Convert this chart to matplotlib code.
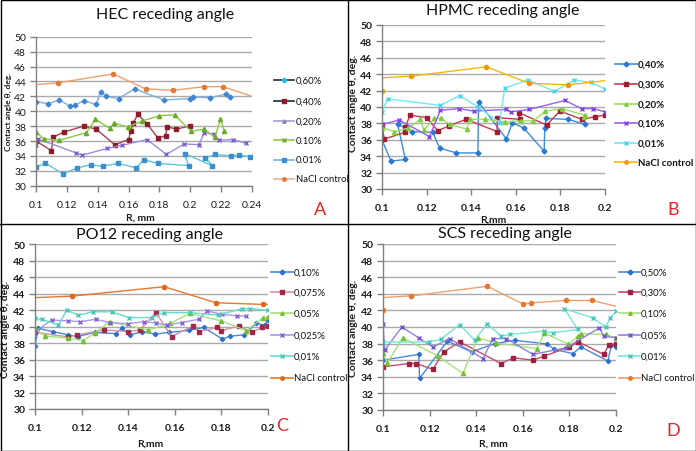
import matplotlib
matplotlib.use('Agg')
import matplotlib.pyplot as plt
from matplotlib.lines import Line2D
from matplotlib.patches import Rectangle

plt.rcParams['font.family'] = ['Lato', 'DejaVu Sans']

# ---------------- DATA ----------------
# Panel A : HEC
A_060_x = [0.100, 0.108, 0.115, 0.122, 0.125, 0.131, 0.139, 0.142, 0.1455, 0.1535, 0.164, 0.183, 0.200, 0.202, 0.213, 0.223, 0.226]
A_060_y = [41.3, 41.0, 41.5, 40.7, 40.8, 41.4, 40.9, 42.6, 42.0, 41.7, 43.0, 41.5, 41.7, 41.9, 41.8, 42.3, 41.9]
A_040_x = [0.100, 0.110, 0.111, 0.118, 0.131, 0.139, 0.151, 0.160, 0.1615, 0.163, 0.166, 0.172, 0.179, 0.184, 0.185, 0.191, 0.1995]
A_040_y = [36.0, 34.7, 36.5, 37.2, 38.0, 37.6, 35.5, 36.2, 37.4, 38.4, 39.6, 38.3, 36.4, 36.7, 37.9, 37.6, 38.0]
A_020_x = [0.100, 0.101, 0.126, 0.130, 0.146, 0.1555, 0.172, 0.1845, 0.196, 0.2055, 0.209, 0.2155, 0.2185, 0.228, 0.236]
A_020_y = [35.5, 36.3, 34.4, 34.1, 35.0, 35.4, 36.2, 34.2, 35.6, 35.5, 37.1, 36.9, 36.1, 36.2, 35.7]
A_010_x = [0.100, 0.105, 0.115, 0.1325, 0.1385, 0.148, 0.1505, 0.1595, 0.169, 0.180, 0.190, 0.2005, 0.209, 0.216, 0.2195, 0.222]
A_010_y = [37.2, 36.3, 36.1, 37.1, 38.9, 37.7, 38.4, 37.9, 38.7, 39.4, 39.5, 37.3, 37.6, 36.5, 38.9, 37.4]
A_001_x = [0.100, 0.106, 0.1177, 0.1268, 0.1355, 0.1433, 0.153, 0.165, 0.1697, 0.1788, 0.1989, 0.1963, 0.2143, 0.2097, 0.2158, 0.2264, 0.2318, 0.2385]
A_001_y = [32.5, 33.0, 31.6, 32.4, 32.8, 32.6, 33.0, 32.4, 33.5, 33.0, 32.7, 34.3, 32.7, 33.7, 34.2, 34.0, 34.1, 33.9]
A_nacl_x = [0.090, 0.114, 0.150, 0.171, 0.189, 0.209, 0.221, 0.250]
A_nacl_y = [43.4, 43.8, 45.0, 43.0, 42.8, 43.3, 43.3, 41.3]

# Panel B : HPMC
B_040_x = [0.100, 0.104, 0.1105, 0.107, 0.1135, 0.1228, 0.1258, 0.1333, 0.143, 0.1433, 0.1558, 0.1585, 0.1637, 0.1727, 0.1730, 0.1735, 0.1832, 0.191]
B_040_y = [36.0, 33.4, 33.6, 37.9, 37.0, 36.9, 35.0, 34.4, 34.4, 40.6, 36.1, 38.1, 37.4, 34.6, 37.5, 38.6, 38.5, 37.9]
B_030_x = [0.100, 0.101, 0.1103, 0.1105, 0.1126, 0.120, 0.125, 0.130, 0.1378, 0.1516, 0.1517, 0.1618, 0.1615, 0.1738, 0.1798, 0.1895, 0.1955, 0.200]
B_030_y = [37.8, 36.1, 36.9, 37.6, 39.0, 38.7, 37.1, 37.7, 38.5, 37.0, 38.7, 38.5, 39.3, 37.8, 39.5, 38.5, 38.8, 39.0]
B_020_x = [0.100, 0.1055, 0.1115, 0.1172, 0.1187, 0.1235, 0.1265, 0.1303, 0.138, 0.1394, 0.1463, 0.155, 0.1622, 0.1678, 0.1733, 0.1805, 0.191, 0.1905]
B_020_y = [37.5, 37.0, 37.4, 38.5, 37.2, 38.6, 38.6, 37.9, 37.3, 38.5, 38.5, 38.2, 38.3, 38.3, 39.5, 39.8, 39.0, 38.8]
B_010_x = [0.100, 0.1078, 0.1213, 0.1262, 0.1345, 0.1412, 0.1558, 0.1577, 0.166, 0.182, 0.1895, 0.1948, 0.200]
B_010_y = [37.9, 38.4, 36.4, 39.6, 39.8, 39.5, 39.7, 39.4, 39.7, 40.8, 39.8, 39.8, 39.4]
B_001_x = [0.100, 0.1025, 0.1262, 0.1348, 0.143, 0.1528, 0.155, 0.1655, 0.1772, 0.1862, 0.1937, 0.200]
B_001_y = [39.4, 41.0, 40.2, 41.4, 40.0, 38.1, 42.3, 43.3, 41.9, 43.3, 43.0, 42.2]
B_nacl_x = [0.100, 0.085, 0.113, 0.1468, 0.166, 0.1832, 0.215]
B_nacl_y = [42.0, 43.35, 43.75, 44.9, 42.9, 42.7, 43.65]

# Panel C : PO12
C_010_x = [0.100, 0.1014, 0.1076, 0.1143, 0.1183, 0.1257, 0.1347, 0.1373, 0.1407, 0.1461, 0.1514, 0.1576, 0.1661, 0.1724, 0.1804, 0.1839, 0.1896, 0.195, 0.1986, 0.200]
C_010_y = [37.7, 39.8, 39.4, 39.0, 38.8, 39.3, 39.15, 39.8, 39.0, 39.4, 39.1, 39.3, 39.55, 39.9, 38.5, 38.85, 39.0, 40.4, 40.2, 40.8]
C_0075_x = [0.100, 0.1143, 0.1181, 0.1296, 0.1399, 0.145, 0.1519, 0.1586, 0.1679, 0.1704, 0.1781, 0.180, 0.1876, 0.1931, 0.1974, 0.200]
C_0075_y = [39.3, 38.75, 39.0, 39.6, 39.4, 39.6, 41.7, 38.8, 40.1, 39.4, 39.9, 39.5, 40.1, 39.3, 39.9, 40.1]
C_005_x = [0.100, 0.1043, 0.1143, 0.1207, 0.1257, 0.132, 0.1486, 0.158, 0.1664, 0.180, 0.1907, 0.1979, 0.200]
C_005_y = [39.8, 38.85, 38.6, 38.3, 39.2, 40.6, 39.6, 40.4, 41.6, 40.7, 39.5, 41.1, 41.2]
C_0025_x = [0.100, 0.1071, 0.1143, 0.1193, 0.1261, 0.1321, 0.1397, 0.1467, 0.152, 0.1567, 0.1629, 0.1703, 0.1739, 0.1804, 0.1869, 0.1907]
C_0025_y = [39.4, 40.8, 40.7, 40.6, 40.9, 40.5, 40.35, 40.6, 40.45, 40.2, 40.5, 40.9, 41.9, 41.5, 41.3, 41.3]
C_001_x = [0.100, 0.1029, 0.110, 0.1136, 0.1186, 0.1247, 0.1329, 0.1404, 0.150, 0.1553, 0.1664, 0.1786, 0.189, 0.1921, 0.200]
C_001_y = [41.0, 40.9, 40.2, 42.0, 41.4, 41.8, 41.8, 41.1, 41.1, 41.7, 41.7, 41.4, 42.2, 42.2, 42.0]
C_nacl_x = [0.085, 0.1157, 0.1555, 0.1776, 0.1979, 0.215]
C_nacl_y = [43.35, 43.7, 44.85, 42.9, 42.7, 42.8]

# Panel D : SCS
D_050_x = [0.100, 0.1153, 0.1157, 0.1276, 0.138, 0.148, 0.1565, 0.1705, 0.1735, 0.1815, 0.185, 0.1965, 0.198, 0.200]
D_050_y = [36.0, 36.7, 33.8, 38.3, 37.0, 38.0, 38.4, 37.95, 37.3, 36.8, 37.6, 35.9, 37.8, 37.6]
D_030_x = [0.100, 0.1111, 0.1143, 0.1214, 0.1261, 0.1329, 0.1507, 0.156, 0.1643, 0.1693, 0.180, 0.1839, 0.1947, 0.1969, 0.200]
D_030_y = [35.2, 35.6, 35.6, 34.9, 37.0, 38.2, 35.6, 36.3, 36.0, 36.5, 37.6, 38.2, 36.7, 37.8, 38.0]
D_010_x = [0.100, 0.1019, 0.1085, 0.1236, 0.1343, 0.1407, 0.1483, 0.166, 0.1693, 0.1796, 0.1836, 0.185, 0.1955, 0.200]
D_010_y = [36.9, 35.7, 38.7, 36.5, 34.4, 38.7, 38.1, 37.4, 39.3, 37.9, 38.9, 39.2, 39.1, 38.7]
D_005_x = [0.100, 0.1007, 0.1081, 0.1153, 0.1214, 0.1286, 0.1429, 0.1471, 0.1529, 0.1643, 0.1786, 0.1929, 0.1947, 0.200]
D_005_y = [40.4, 37.2, 40.0, 38.7, 37.6, 38.6, 36.2, 38.6, 38.6, 36.7, 37.5, 39.9, 38.9, 38.7]
D_001_x = [0.100, 0.1197, 0.1247, 0.1329, 0.1393, 0.1447, 0.1507, 0.1543, 0.1689, 0.1729, 0.1836, 0.1778, 0.190, 0.1956, 0.1975, 0.200]
D_001_y = [38.2, 38.2, 38.5, 40.3, 38.4, 40.4, 38.9, 39.1, 39.5, 39.3, 39.7, 42.2, 41.1, 40.0, 41.1, 41.9]
D_nacl_x = [0.100, 0.085, 0.1121, 0.1447, 0.1603, 0.1634, 0.1786, 0.1896, 0.215]
D_nacl_y = [42.0, 43.3, 43.75, 44.9, 42.75, 42.9, 43.2, 43.2, 41.5]

titles = ["HEC receding angle", "HPMC receding angle", "PO12 receding angle", "SCS receding angle"]
letters = ["A", "B", "C", "D"]
xlabels = ["R, mm", "R,mm", "R,mm", "R, mm"]
ylabel = "Contact angle θ, deg."
yticks = [30, 32, 34, 36, 38, 40, 42, 44, 46, 48, 50]
xticks_A = [0.10, 0.12, 0.14, 0.16, 0.18, 0.20, 0.22, 0.24]
xticklabels_A = ["0.1", "0.12", "0.14", "0.16", "0.18", "0.2", "0.22", "0.24"]
xticks_B = [0.10, 0.12, 0.14, 0.16, 0.18, 0.20]
xticklabels_B = ["0.1", "0.12", "0.14", "0.16", "0.18", "0.2"]

labels_A = ["0,60%", "0,40%", "0,20%", "0.10%", "0.01%", "NaCl control"]
labels_B = ["0,40%", "0,30%", "0,20%", "0,10%", "0,01%", "NaCl control"]
labels_C = ["0,10%", "0,075%", "0,05%", "0,025%", "0,01%", "NaCl control"]
labels_D = ["0,50%", "0,30%", "0,10%", "0,05%", "0,01%", "NaCl control"]

# ---------------- FIGURE ----------------
W, H = 696, 452
fig = plt.figure(figsize=(W / 100, H / 100), dpi=100)


def rect(l, t, r, b):
    return [l / W, 1 - b / H, (r - l) / W, (b - t) / H]


def fx(px):
    return px / W


def fy(py):
    return 1 - py / H


panels = [
    dict(rect=rect(36, 37.7, 252, 186.7), xlim=(0.1, 0.24), xt=xticks_A, xtl=xticklabels_A, bold=False, tfs=7.5,
         series=[
             (A_060_x, A_060_y, '#7eaee0', 'D', '#3d85d6', 2.5),
             (A_040_x, A_040_y, '#a8404e', 's', '#8c1c2c', 3.0),
             (A_020_x, A_020_y, '#9d8ee0', 'x', '#7a5cd0', 3.5),
             (A_010_x, A_010_y, '#8cc84a', '^', '#6aaa28', 3.0),
             (A_001_x, A_001_y, '#5cc6d4', 's', '#3a8fd1', 2.5),
             (A_nacl_x, A_nacl_y, '#f0a070', 'o', '#e07b39', 3.0),
         ],
         legend=dict(labels=labels_A, x0=274, x1=294, xt=296, ys=[81, 102, 122, 141, 161, 180], fs=6.8,
                     items=[('#1c2e3a', 'D', '#2ab7e6'), ('#1c2e3a', 's', '#8c1c2c'), ('#a899e0', '^', '#909090'),
                            ('#8cc84a', 'x', '#6aaa28'), ('#6cb4e0', 's', '#3a8fd1'), ('#f4b090', 'o', '#e07b39')],
                     bold=False),
         title=(165, 15), letter=(320, 210), xlabel=(140, 218), ylabel=(8, 112), yfs=6.0),
    dict(rect=rect(382, 26, 605, 190), xlim=(0.1, 0.2), xt=xticks_B, xtl=xticklabels_B, bold=True, tfs=7.5,
         series=[
             (B_040_x, B_040_y, '#3c8ce0', 'D', '#2a78d0', 2.5),
             (B_030_x, B_030_y, '#c43a50', 's', '#a41c34', 3.0),
             (B_020_x, B_020_y, '#9ee060', '^', '#80cc40', 3.0),
             (B_010_x, B_010_y, '#9a60e8', 'x', '#8040e0', 3.5),
             (B_001_x, B_001_y, '#70eaf4', 'x', '#40d8ee', 3.5),
             (B_nacl_x, B_nacl_y, '#f5b800', 'o', '#f09800', 3.0),
         ],
         legend=dict(labels=labels_B, x0=615, x1=637, xt=638, ys=[65, 85, 105, 124, 144, 163], fs=7,
                     items=[('#3c8ce0', 'D', '#2a78d0'), ('#c43a50', 's', '#a41c34'), ('#9ee060', '^', '#80cc40'),
                            ('#9a60e8', 'x', '#8040e0'), ('#70eaf4', 'x', '#40d8ee'), ('#f5b800', 'o', '#f09800')],
                     bold=True),
         title=(503, 11), letter=(673, 210), xlabel=(493, 220), ylabel=(354, 103), yfs=7.5),
    dict(rect=rect(35, 245.3, 268, 410), xlim=(0.1, 0.2), xt=xticks_B, xtl=xticklabels_B, bold=True, tfs=7.5,
         series=[
             (C_010_x, C_010_y, '#4a88d8', 'D', '#2a70cc', 2.2),
             (C_0075_x, C_0075_y, '#d890a8', 's', '#a02848', 3.0),
             (C_005_x, C_005_y, '#a8e07a', '^', '#70c030', 3.0),
             (C_0025_x, C_0025_y, '#a898e8', 'x', '#8060d8', 3.5),
             (C_001_x, C_001_y, '#66dcc8', 'x', '#40c8b8', 3.5),
             (C_nacl_x, C_nacl_y, '#e8782a', 'o', '#e06818', 3.0),
         ],
         legend=dict(labels=labels_C, x0=271, x1=293, xt=294, ys=[273, 293, 314, 336, 357, 379], fs=6.9,
                     items=[('#4a88d8', 'D', '#2a70cc'), ('#d890a8', 's', '#a02848'), ('#a8e07a', '^', '#70c030'),
                            ('#a898e8', 'x', '#8060d8'), ('#66dcc8', 'x', '#40c8b8'), ('#e8782a', 'o', '#e06818')],
                     bold=False),
         title=(150, 235), letter=(282, 426), xlabel=(150, 444), ylabel=(6, 329), yfs=7.5),
    dict(rect=rect(383, 245, 616, 411), xlim=(0.1, 0.2), xt=xticks_B, xtl=xticklabels_B, bold=True, tfs=7.5,
         series=[
             (D_050_x, D_050_y, '#4a88d8', 'D', '#2a70cc', 2.2),
             (D_030_x, D_030_y, '#c44c6c', 's', '#a02040', 3.0),
             (D_010_x, D_010_y, '#a8e07a', '^', '#70c030', 3.0),
             (D_005_x, D_005_y, '#9080dc', 'x', '#7050d0', 3.5),
             (D_001_x, D_001_y, '#78e4d4', 'x', '#40c8b8', 3.5),
             (D_nacl_x, D_nacl_y, '#f0a070', 'o', '#e8782a', 3.0),
         ],
         legend=dict(labels=labels_D, x0=619, x1=640, xt=641, ys=[273, 293, 314, 336, 357, 379], fs=6.9,
                     items=[('#4a88d8', 'D', '#2a70cc'), ('#c44c6c', 's', '#a02040'), ('#a8e07a', '^', '#70c030'),
                            ('#9080dc', 'x', '#7050d0'), ('#78e4d4', 'x', '#40c8b8'), ('#f0a070', 'o', '#e8782a')],
                     bold=False),
         title=(505, 234), letter=(673, 431), xlabel=(493, 444), ylabel=(354, 328), yfs=7.5),
]

for i, p in enumerate(panels):
    ax = fig.add_axes(p['rect'])
    ax.set_xlim(*p['xlim'])
    ax.set_ylim(30, 50)
    ax.set_yticks(yticks)
    ax.set_xticks(p['xt'])
    ax.set_xticklabels(p['xtl'])
    w = 'bold' if p['bold'] else 'normal'
    for lab in ax.get_xticklabels() + ax.get_yticklabels():
        lab.set_fontweight(w)
        lab.set_fontsize(p['tfs'])
        lab.set_color('#1a1a1a')
    ax.grid(axis='y', color='#aaaaaa', lw=1.0)
    ax.set_axisbelow(True)
    for s in ['top', 'right']:
        ax.spines[s].set_visible(False)
    for s in ['left', 'bottom']:
        ax.spines[s].set_color('#808080')
        ax.spines[s].set_linewidth(1.0)
    ax.tick_params(axis='both', direction='out', length=4, width=1, color='#808080', pad=3)
    ax.tick_params(axis='x', pad=6)
    for (x, y, lc, m, mc, ms) in p['series']:
        ax.plot(x, y, color=lc, lw=1.0, marker=m, markersize=ms, markerfacecolor=mc,
                markeredgecolor=mc, markeredgewidth=1.0, clip_on=True)

    fig.text(fx(p['title'][0]), fy(p['title'][1]), titles[i], ha='center', va='center', fontsize=11.5, color='#111111')
    fig.text(fx(p['letter'][0]), fy(p['letter'][1]), letters[i], ha='center', va='center', fontsize=13, color='#ee2222')
    fig.text(fx(p['xlabel'][0]), fy(p['xlabel'][1]), xlabels[i], ha='center', va='center', fontsize=7.5,
             fontweight='bold', color='#1a1a1a')
    fig.text(fx(p['ylabel'][0]), fy(p['ylabel'][1]), ylabel, ha='center', va='center', fontsize=p['yfs'],
             fontweight='bold', rotation=90, color='#1a1a1a')

    lg = p['legend']
    for (lab, yy, (lc, m, mc)) in zip(lg['labels'], lg['ys'], lg['items']):
        fig.add_artist(Line2D([fx(lg['x0']), fx(lg['x1'])], [fy(yy), fy(yy)], color=lc, lw=1.2))
        fig.add_artist(Line2D([fx((lg['x0'] + lg['x1']) / 2)], [fy(yy)], marker=m, markersize=2.5,
                              markerfacecolor=mc, markeredgecolor=mc, lw=0))
        fig.text(fx(lg['xt']), fy(yy), lab, ha='left', va='center', fontsize=lg['fs'],
                 fontweight='bold' if lg['bold'] else 'normal', color='#111111')

# panel frame
fig.add_artist(Rectangle((0.5 / W, 0.5 / H), (W - 1) / W, (H - 1) / H, transform=fig.transFigure,
                         fill=False, edgecolor='black', lw=1.0))
fig.add_artist(Line2D([fx(347.5), fx(347.5)], [0, 1], color='black', lw=1.0))
fig.add_artist(Line2D([0, 1], [fy(224.5), fy(224.5)], color='black', lw=1.0))

fig.savefig('out.png', dpi=100)
